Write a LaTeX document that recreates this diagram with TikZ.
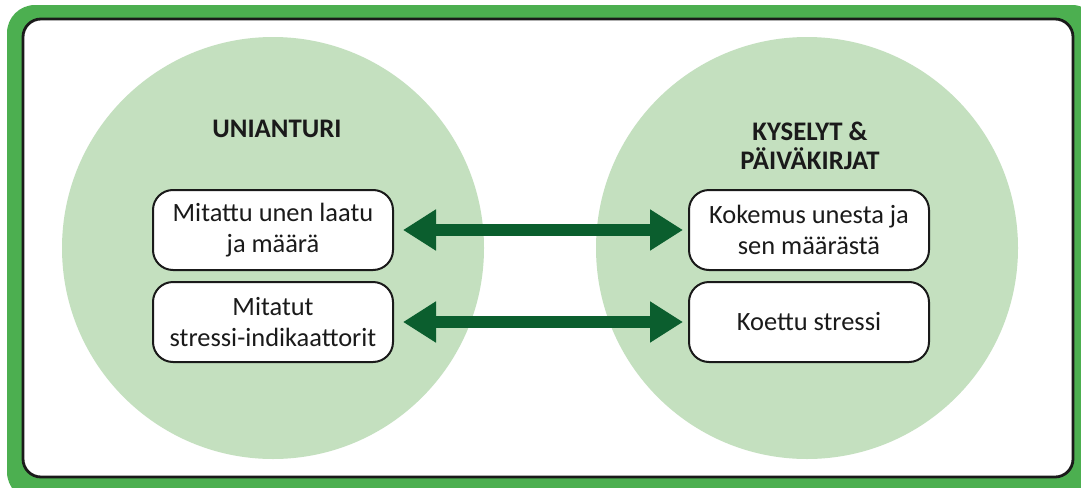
\documentclass[tikz,border=0pt]{standalone}
\usepackage{fontspec}
\setmainfont{Carlito}
\usepackage{xcolor}
\usepackage{tikz}
\usetikzlibrary{arrows.meta, positioning}
\definecolor{kehys}{RGB}{76,175,80}
\definecolor{ympyra}{RGB}{196,224,191}
\definecolor{nuoli}{RGB}{11,94,46}
\definecolor{teksti}{RGB}{26,26,26}

\begin{document}
\begin{tikzpicture}[x=0.5pt, y=-0.5pt,
    laatikko/.style={draw=teksti, line width=1pt, fill=white, rounded corners=10pt,
        minimum width=120pt, minimum height=40pt, inner sep=0pt, align=center,
        font=\fontsize{13.2}{15.5}\selectfont, text=teksti},
    otsikko/.style={align=center, font=\fontsize{13.4}{14.2}\selectfont\bfseries, text=teksti},
    kaksinuoli/.style={nuoli, line width=6pt,
        {Triangle[length=16.5pt, width=19.5pt]}-{Triangle[length=16.5pt, width=19.5pt]},
        shorten <=4.5pt, shorten >=2.5pt}]
    % Kehys
    \useasboundingbox (0,0) rectangle (1081,487);
    \clip (0,0) rectangle (1081,487);
    \fill[kehys, rounded corners=14pt] (7,5) rectangle (1100,500);
    \draw[fill=white, draw=teksti, line width=1.4pt, rounded corners=9pt] (23,19) rectangle (1073,477);
    % Ympyrat
    \fill[ympyra] (273,248) circle[radius=211];
    \fill[ympyra] (807,248) circle[radius=211];
    % Otsikot
    \node[otsikko] (uni) at (277,129) {UNIANTURI};
    \node[otsikko] (kys) at (810,146) {KYSELYT \&\\PÄIVÄKIRJAT};
    % Laatikot
    \node[laatikko] (mitattu) at (273,230) {Mitattu unen laatu\\ja määrä};
    \node[laatikko, below=5pt of mitattu] (indik) {Mitatut\\stressi-indikaattorit};
    \node[laatikko] (kokemus) at (809,230) {Kokemus unesta ja\\sen määrästä};
    \node[laatikko, below=5pt of kokemus] (koettu) {Koettu stressi};
    % Nuolet
    \draw[kaksinuoli] (mitattu) -- (kokemus);
    \draw[kaksinuoli] (indik) -- (koettu);
\end{tikzpicture}
\end{document}
